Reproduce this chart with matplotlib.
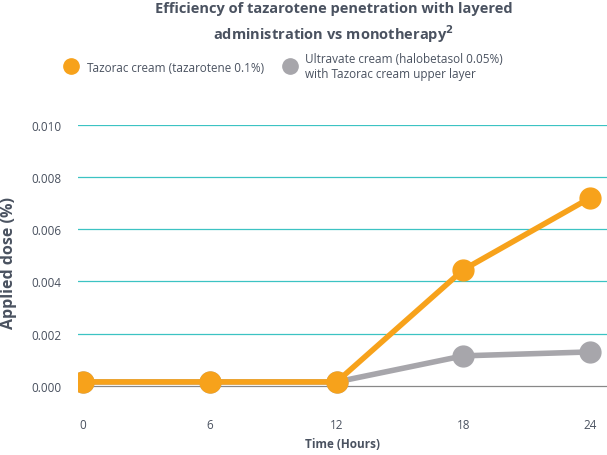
import matplotlib
matplotlib.use("Agg")
import matplotlib.pyplot as plt
from matplotlib.lines import Line2D

plt.rcParams["font.family"] = "Open Sans"

hours = [0, 6, 12, 18, 24]
tazorac = [0.00015, 0.00015, 0.00015, 0.00445, 0.0072]
ultravate = [0.00015, 0.00015, 0.00015, 0.00115, 0.0013]
yticks = [0.000, 0.002, 0.004, 0.006, 0.008, 0.010]

orange = "#f7a21b"
grey = "#a7a6ab"
text_col = "#4a5260"

fig = plt.figure(figsize=(6.07, 4.56), dpi=100)
ax = fig.add_axes([0.1285, 0.123, 0.8715, 0.601])

ax.plot(hours, ultravate, color=grey, lw=4, marker="o", ms=15, zorder=3)
ax.plot(hours, tazorac, color=orange, lw=4, marker="o", ms=15, zorder=4)

ax.set_xlim(-0.24, 24.8)
ax.set_ylim(-0.0005, 0.0100)
ax.set_xticks(hours)
ax.set_yticks(yticks)
ax.set_yticklabels([f"{v:.3f}" for v in yticks])
for v in yticks:
    ax.axhline(v, color="#888888" if v == 0 else "#3cc3c3", lw=0.9, zorder=1)
for s in ax.spines.values():
    s.set_visible(False)
ax.tick_params(length=0, labelsize=8.5, labelcolor=text_col, pad=14)
ax.tick_params(axis="y", pad=12)
ax.set_xlabel("Time (Hours)", fontsize=8.5, fontweight="bold", color=text_col, labelpad=4)
ax.set_ylabel("Applied dose (%)", fontsize=11.5, fontweight="bold", color=text_col, labelpad=10)

fig.text(0.55, 0.995, "Efficiency of tazarotene penetration with layered\nadministration vs monotherapy$^{\\mathbf{2}}$",
         ha="center", va="top", fontsize=10.5, fontweight="bold", color=text_col, linespacing=1.45)

handles = [
    Line2D([], [], marker="o", ls="", color=orange, ms=11),
    Line2D([], [], marker="o", ls="", color=grey, ms=11),
]
fig.legend(handles, ["Tazorac cream (tazarotene 0.1%)",
                     "Ultravate cream (halobetasol 0.05%)\nwith Tazorac cream upper layer"],
           loc="upper left", bbox_to_anchor=(0.09, 0.895), ncol=2, frameon=False,
           fontsize=8.5, labelcolor=text_col, handletextpad=0.3, columnspacing=1.2,
           borderaxespad=0)

fig.savefig("out.png", dpi=100)
